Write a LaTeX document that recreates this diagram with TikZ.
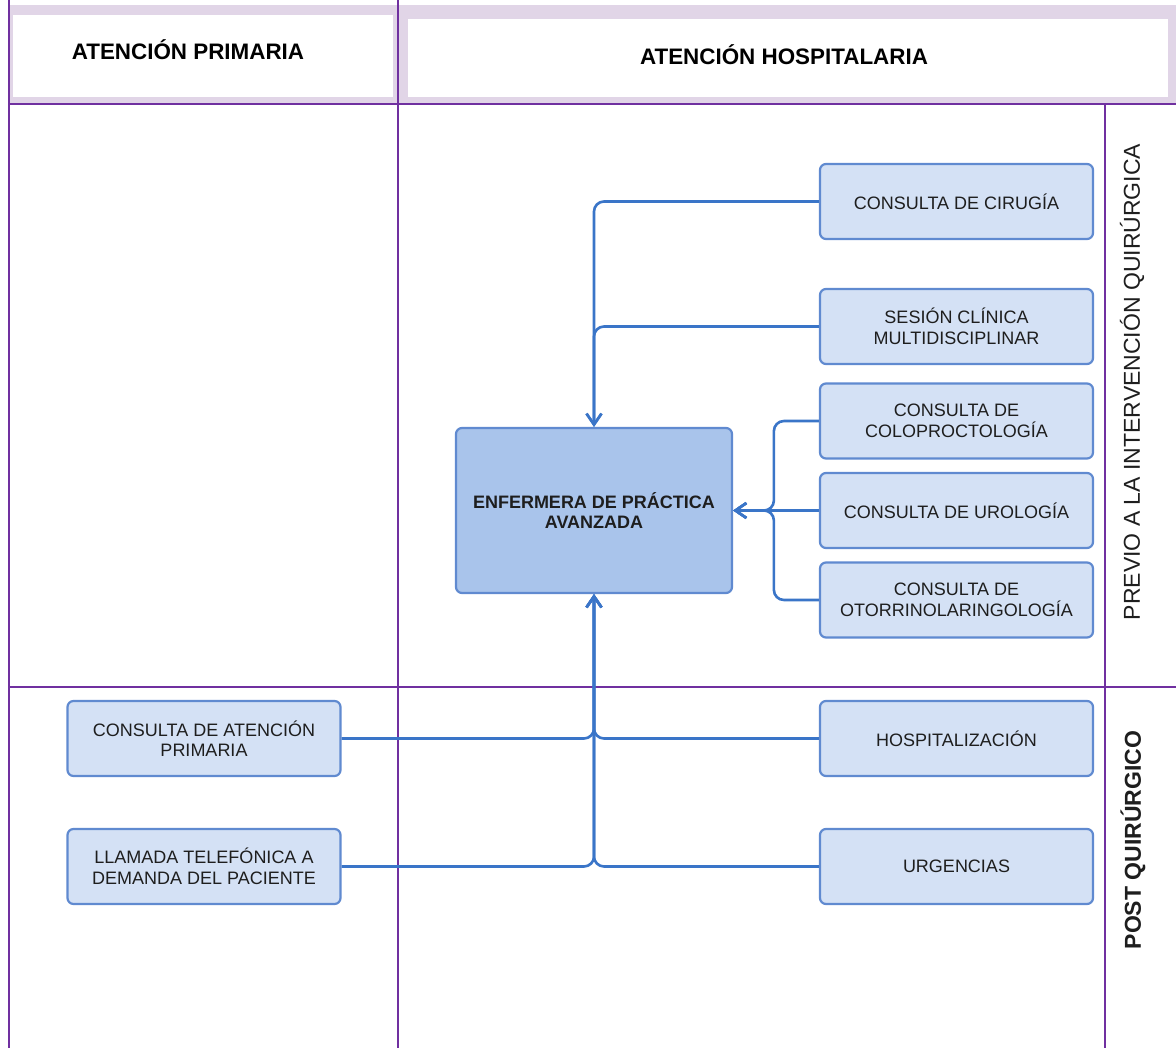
\documentclass[tikz,border=0pt]{standalone}
\usepackage{fontspec}
\setmainfont{Liberation Sans}
\usetikzlibrary{arrows.meta}
\definecolor{lane}{RGB}{112,48,160}
\definecolor{hdr}{RGB}{225,213,231}
\definecolor{boxfill}{RGB}{212,225,245}
\definecolor{boxdraw}{RGB}{96,138,208}
\definecolor{mainfill}{RGB}{169,196,235}
\definecolor{conn}{RGB}{58,117,200}
\definecolor{txt}{RGB}{30,30,30}
\begin{document}
\begin{tikzpicture}[x=1pt,y=-1pt,
  laneline/.style={draw=lane,line width=2.8pt},
  boxn/.style={draw=boxdraw,fill=boxfill,line width=2.2pt,rounded corners=6pt,
    minimum width=273pt,minimum height=75pt,align=center,inner sep=0pt,
    text=txt,font=\fontsize{18}{20.5}\selectfont},
  mainbox/.style={boxn,fill=mainfill,minimum width=276pt,minimum height=165pt,
    font=\fontsize{18}{20.5}\selectfont\bfseries},
  hdrtext/.style={font=\fontsize{22.4}{25}\selectfont\bfseries,text=black},
  sidetext/.style={rotate=90,font=\fontsize{23}{26}\selectfont,text=txt},
  conn/.style={draw=conn,line width=2.6pt,rounded corners=10pt,
    -{Straight Barb[length=11pt,width=15pt,line width=2.6pt]}}
]
\useasboundingbox (0,0) rectangle (1176,1048);
\fill[white] (0,0) rectangle (1176,1048);
% header band
\fill[hdr] (9,5) rectangle (1176,104);
\fill[white] (13,15) rectangle (393,97);
\fill[white] (408,19) rectangle (1168,97);
% lane lines
\draw[laneline] (9,0) -- (9,1048);
\draw[laneline] (398,0) -- (398,1048);
\draw[laneline] (9,104) -- (1176,104);
\draw[laneline] (9,687) -- (1176,687);
\draw[laneline] (1105,104) -- (1105,1048);
% headers
\node[hdrtext] (h1) at (188,50) {ATENCIÓN PRIMARIA};
\node[hdrtext] (h2) at (784,55) {ATENCIÓN HOSPITALARIA};
\node[sidetext] (s1) at (1132,382) {PREVIO A LA INTERVENCIÓN QUIRÚRGICA};
\node[sidetext,font=\fontsize{23}{26}\selectfont\bfseries] (s2) at (1133,840) {POST QUIRÚRGICO};
% nodes
\node[boxn] (cir) at (956.5,201.5) {CONSULTA DE CIRUGÍA};
\node[boxn] (ses) at (956.5,326.5) {SESIÓN CLÍNICA\\MULTIDISCIPLINAR};
\node[boxn] (colo) at (956.5,421) {CONSULTA DE\\COLOPROCTOLOGÍA};
\node[boxn] (uro) at (956.5,510.5) {CONSULTA DE UROLOGÍA};
\node[boxn] (oto) at (956.5,600) {CONSULTA DE\\OTORRINOLARINGOLOGÍA};
\node[mainbox] (enf) at (594,510.5) {ENFERMERA DE PRÁCTICA\\AVANZADA};
\node[boxn] (cap) at (204,738.5) {CONSULTA DE ATENCIÓN\\PRIMARIA};
\node[boxn] (lla) at (204,866.5) {LLAMADA TELEFÓNICA A\\DEMANDA DEL PACIENTE};
\node[boxn] (hos) at (956.5,738.5) {HOSPITALIZACIÓN};
\node[boxn] (urg) at (956.5,866.5) {URGENCIAS};
% connectors
\draw[conn] (cir.west) -| (enf.north);
\draw[conn] (ses.west) -| (enf.north);
\draw[conn] (colo.west) -- ++(-45,0) |- (enf.east);
\draw[conn] (uro.west) -- (enf.east);
\draw[conn] (oto.west) -- ++(-45,0) |- (enf.east);
\draw[conn] (cap.east) -| (enf.south);
\draw[conn] (lla.east) -| (enf.south);
\draw[conn] (hos.west) -| (enf.south);
\draw[conn] (urg.west) -| (enf.south);
\end{tikzpicture}
\end{document}
